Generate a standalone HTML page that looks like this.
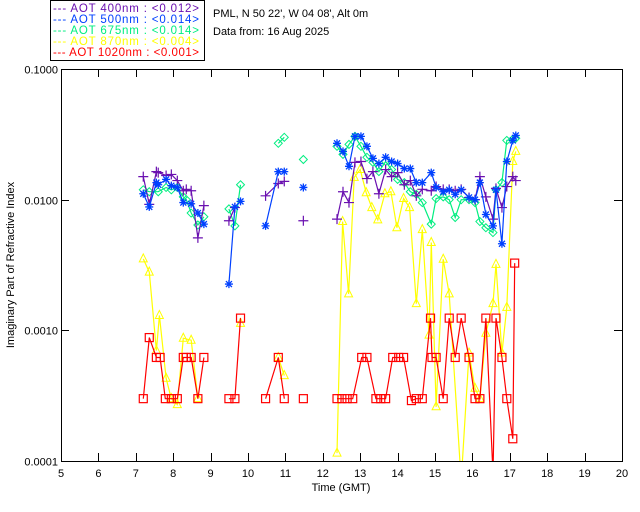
<!DOCTYPE html>
<html><head><meta charset="utf-8"><style>
body{margin:0;background:#fff;}
svg{display:block;font-family:"Liberation Sans",sans-serif;}
</style></head><body>
<svg id="chart" width="640" height="512" viewBox="0 0 640 512">
<rect width="640" height="512" fill="#fff"/>
<g>
<rect x="50.5" y="0.5" width="154" height="60" fill="#fff" stroke="#000"/>
<text x="53" y="12" font-size="11.5" textLength="146" lengthAdjust="spacing" fill="#6a10b0">--- AOT  400nm : &lt;0.012&gt;</text>
<text x="53" y="23" font-size="11.5" textLength="146" lengthAdjust="spacing" fill="#0040ff">--- AOT  500nm : &lt;0.014&gt;</text>
<text x="53" y="34" font-size="11.5" textLength="146" lengthAdjust="spacing" fill="#00ee80">--- AOT  675nm : &lt;0.014&gt;</text>
<text x="53" y="45" font-size="11.5" textLength="146" lengthAdjust="spacing" fill="#ffff00">--- AOT  870nm : &lt;0.004&gt;</text>
<text x="53" y="56" font-size="11.5" textLength="146" lengthAdjust="spacing" fill="#ff0000">--- AOT 1020nm : &lt;0.001&gt;</text>
</g>
<text x="213" y="17" font-size="11" fill="#000">PML, N 50 22', W 04 08', Alt 0m</text>
<text x="213" y="35" font-size="11" fill="#000">Data from: 16 Aug 2025</text>
<text transform="translate(14,265) rotate(-90)" text-anchor="middle" font-size="11" fill="#000">Imaginary Part of Refractive Index</text>
<text x="341" y="491" text-anchor="middle" font-size="11" fill="#000">Time (GMT)</text>
<g id="axes"></g>
<g id="series"></g>
</svg>
<script>
const xTicks=[5,6,7,8,9,10,11,12,13,14,15,16,17,18,19,20];
const yTicks=[0.1,0.01,0.001,0.0001];
const yTickLabels=["0.1000","0.0100","0.0010","0.0001"];

const t400=[7.20,7.36,7.55,7.60,7.81,7.95,8.11,8.27,8.35,8.48,8.66,8.82,9.49,9.65,10.47,10.81,10.97,11.48,12.38,12.54,12.70,12.86,13.02,13.18,13.34,13.50,13.68,13.84,14.00,14.18,14.34,14.50,14.66,14.90,15.03,15.22,15.38,15.54,15.70,15.91,16.07,16.20,16.36,16.55,16.63,16.79,16.92,17.08,17.16];
const v400=[0.015,0.0092,0.0164,0.0161,0.0153,0.0156,0.014,0.0117,0.012,0.0117,0.0051,0.009,0.0069,0.0087,0.0107,0.0133,0.0138,0.0069,0.0071,0.0115,0.0095,0.0193,0.0196,0.0145,0.0164,0.0111,0.017,0.015,0.0161,0.013,0.014,0.0107,0.012,0.0117,0.0126,0.012,0.012,0.0117,0.012,0.0104,0.01,0.015,0.0105,0.0071,0.0122,0.0087,0.0126,0.015,0.014];

const t500=[7.20,7.36,7.55,7.60,7.81,7.95,8.11,8.27,8.48,8.66,8.82,9.49,9.65,9.80,10.47,10.81,10.97,11.48,12.38,12.54,12.70,12.86,13.02,13.18,13.34,13.50,13.68,13.84,14.00,14.18,14.34,14.50,14.66,14.90,15.03,15.22,15.38,15.54,15.70,15.91,16.07,16.20,16.36,16.55,16.63,16.79,16.92,17.08,17.16];
const v500=[0.0111,0.0088,0.0135,0.013,0.0143,0.0128,0.0124,0.0095,0.0093,0.0079,0.0065,0.00226,0.0088,0.0097,0.0063,0.0164,0.0164,0.0124,0.027,0.0234,0.018,0.0305,0.0305,0.0256,0.0207,0.0189,0.0211,0.0196,0.0189,0.0173,0.0173,0.0135,0.0135,0.0161,0.0124,0.0115,0.0119,0.011,0.0119,0.0104,0.01,0.0135,0.0077,0.0063,0.0119,0.0046,0.0196,0.0284,0.031];

const t675=[7.20,7.36,7.60,7.81,7.95,8.11,8.27,8.35,8.48,8.66,8.82,9.49,9.65,9.80,10.81,10.97,11.48,12.38,12.54,12.70,12.86,13.02,13.18,13.34,13.50,13.68,13.84,14.00,14.18,14.34,14.50,14.66,14.90,15.03,15.22,15.38,15.54,15.70,15.91,16.07,16.20,16.36,16.55,16.63,16.79,16.92,17.08,17.16];
const v675=[0.0119,0.0115,0.0115,0.0124,0.0119,0.0124,0.0105,0.01,0.0079,0.0064,0.0074,0.0085,0.0063,0.013,0.027,0.030,0.0203,0.0256,0.0222,0.0265,0.0305,0.0256,0.0211,0.0193,0.0164,0.0196,0.017,0.0143,0.0135,0.0115,0.011,0.0095,0.0065,0.0102,0.0105,0.01,0.0073,0.01,0.01,0.0095,0.0068,0.0061,0.0056,0.0119,0.0135,0.0284,0.029,0.0295];

const t870=[7.20,7.36,7.55,7.63,7.81,7.95,8.11,8.27,8.48,8.66,9.80,10.81,10.97,12.38,12.53,12.69,12.84,13.00,13.16,13.31,13.47,13.66,13.82,13.98,14.16,14.32,14.50,14.66,14.84,14.90,15.03,15.22,15.38,15.70,15.91,16.07,16.20,16.36,16.55,16.63,16.79,16.92,17.08,17.16];
const v870=[0.00352,0.00279,0.0007,0.0013,0.00043,0.0003,0.00027,0.00087,0.00084,0.0003,0.00113,0.00062,0.00045,0.000115,0.0068,0.0019,0.0148,0.017,0.0113,0.0087,0.007,0.0111,0.0115,0.0061,0.0102,0.0087,0.0016,0.0059,0.00092,0.0047,0.00026,0.0035,0.0019,0.00007,0.00067,0.00036,0.0003,0.00095,0.0016,0.0032,0.00067,0.0015,0.0196,0.0234];

const t1020=[7.20,7.36,7.55,7.65,7.79,7.95,8.11,8.27,8.35,8.48,8.66,8.82,9.49,9.65,9.80,10.47,10.81,10.97,11.48,12.38,12.51,12.65,12.80,13.04,13.18,13.42,13.55,13.68,13.87,14.03,14.16,14.37,14.50,14.66,14.88,14.92,15.03,15.22,15.38,15.54,15.70,15.91,16.07,16.20,16.36,16.55,16.63,16.79,16.92,17.08,17.13];
const v1020=[0.0003,0.00088,0.00062,0.00062,0.0003,0.0003,0.0003,0.00062,0.00062,0.00062,0.0003,0.00062,0.0003,0.0003,0.00124,0.0003,0.00062,0.0003,0.0003,0.0003,0.0003,0.0003,0.0003,0.00062,0.00062,0.0003,0.0003,0.0003,0.00062,0.00062,0.00062,0.00029,0.0003,0.0003,0.00124,0.00062,0.00062,0.0003,0.00124,0.00062,0.00124,0.00062,0.0003,0.0003,0.00124,0.00008,0.00124,0.00062,0.0003,0.000148,0.00327];

const L=61,R=622,T=69,B=461;
function xs(t){return L+(t-5)/15*(R-L);}
function ys(v){return T+(-1-Math.log10(v))/3*(B-T);}
const NS="http://www.w3.org/2000/svg";
function mk(tag,attrs,parent){const e=document.createElementNS(NS,tag);for(const k in attrs)e.setAttribute(k,attrs[k]);parent.appendChild(e);return e;}
const axes=document.getElementById('axes');
const frame=mk('rect',{x:L+0.5,y:T+0.5,width:R-L,height:B-T,fill:'none',stroke:'#000','stroke-width':1},axes);


xTicks.forEach(t=>{
  const x=Math.round(xs(t))+0.5;
  if(t>5&&t<20){
    const tb=mk('line',{x1:x,x2:x,y1:B,y2:B-8,stroke:'#000'},axes);
    
    
    const tt=mk('line',{x1:x,x2:x,y1:T,y2:T+8,stroke:'#000'},axes);
    
    
  }
  const lb=mk('text',{x:xs(t),y:B+16,'text-anchor':'middle','font-size':11,fill:'#000'},axes);
  lb.textContent=String(t);
  
  
});
yTicks.forEach((v,i)=>{
  const y=Math.round(ys(v))+0.5;
  if(i>0&&i<3){
    const tl=mk('line',{x1:L,x2:L+8,y1:y,y2:y,stroke:'#000'},axes);
    
    
    const tr=mk('line',{x1:R-8,x2:R,y1:y,y2:y,stroke:'#000'},axes);
    
    
  }
  const lb=mk('text',{x:L-3,y:y+4,'text-anchor':'end','font-size':11,fill:'#000'},axes);
  lb.textContent=yTickLabels[i];
  
  
});
mk('clipPath',{id:'clip'},axes);
mk('rect',{x:L,y:T,width:R-L,height:B-T},document.getElementById('clip'));
const sg=document.getElementById('series');
sg.setAttribute('clip-path','url(#clip)');
function marker(g,type,x,y,c){
  let m;
  if(type==='square') m=mk('rect',{x:x-4,y:y-4,width:8,height:8,fill:'none',stroke:c,'stroke-width':1.2},g);
  else if(type==='tri') m=mk('path',{d:`M${x},${y-5}L${x+4},${y+3}L${x-4},${y+3}Z`,fill:'none',stroke:c},g);
  else if(type==='diamond') m=mk('path',{d:`M${x},${y-4}L${x+4},${y}L${x},${y+4}L${x-4},${y}Z`,fill:'none',stroke:c},g);
  else if(type==='plus') m=mk('path',{d:`M${x-5},${y}H${x+5}M${x},${y-5}V${y+5}`,fill:'none',stroke:c,'stroke-width':1.2},g);
  else m=mk('path',{d:`M${x-4},${y}H${x+4}M${x},${y-4}V${y+4}M${x-3},${y-3}L${x+3},${y+3}M${x-3},${y+3}L${x+3},${y-3}`,fill:'none',stroke:c,'stroke-width':1.3},g);
  
  
}
function drawSeries(name,ts,vs,c,type){
  const g=mk('g',{},sg);
  
  
  let d='';
  for(let i=0;i<ts.length;i++){
    const x=xs(ts[i]),y=ys(vs[i]);
    d+=(i===0||ts[i]-ts[i-1]>0.45?'M':'L')+x.toFixed(1)+','+y.toFixed(1);
  }
  const p=mk('path',{d:d,fill:'none',stroke:c,'stroke-width':1.2},g);
  
  
  for(let i=0;i<ts.length;i++) marker(g,type,xs(ts[i]),ys(vs[i]),c);
}
drawSeries('series-870nm',t870,v870,'#ffff00','tri');
drawSeries('series-1020nm',t1020,v1020,'#ff0000','square');
drawSeries('series-675nm',t675,v675,'#00ee80','diamond');
drawSeries('series-400nm',t400,v400,'#6a10b0','plus');
drawSeries('series-500nm',t500,v500,'#0040ff','star');
</script>
</body></html>
